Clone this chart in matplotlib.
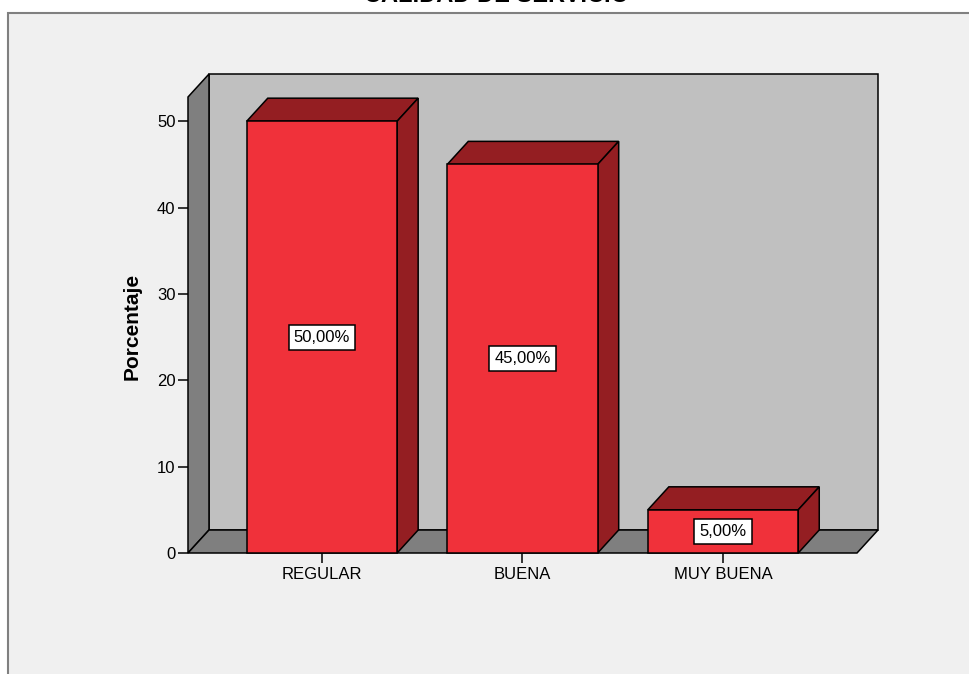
import matplotlib.pyplot as plt
from matplotlib.patches import Polygon, Rectangle

plt.rcParams['font.family'] = ['Liberation Sans', 'DejaVu Sans']

# Calidad de servicio - porcentajes
categorias = ['REGULAR', 'BUENA', 'MUY BUENA']
porcentajes = [50.0, 45.0, 5.0]
etiquetas = ['50,00%', '45,00%', '5,00%']
yticks = [0, 10, 20, 30, 40, 50]

rojo = '#f0313a'
rojo_osc = '#941e22'
gris_fondo = '#c0c0c0'
gris_pared = '#7f7f7f'

W, H = 970, 674
fig = plt.figure(figsize=(W / 100, H / 100), dpi=100)
fig.patch.set_facecolor('white')

# marco del grafico
fig.patches.append(Rectangle((8 / W, -0.05), 1.0, 1 - 13 / H + 0.05, transform=fig.transFigure,
                             facecolor='#f0f0f0', edgecolor='#808080', linewidth=1.5, zorder=-5))

fig.text(497 / W, 1 - 2 / H, 'CALIDAD DE SERVICIO', ha='center', va='baseline',
         fontsize=17, fontweight='bold')

ax = fig.add_axes([188 / W, 121 / H, 669 / W, 456 / H])
ax.set_zorder(1)
ax.set_facecolor('none')
xmin, xmax = -0.668, 2.668
ymin, ymax = 0, 52.8
ax.set_xlim(xmin, xmax)
ax.set_ylim(ymin, ymax)

# profundidad del efecto 3D en unidades de datos
ddx = 21 * (xmax - xmin) / 669
ddy = 23 * (ymax - ymin) / 456

kw = dict(edgecolor='black', linewidth=1.1, clip_on=False, joinstyle='miter')
# pared del fondo, pared izquierda y piso
ax.add_patch(Polygon([(xmin + ddx, ddy), (xmax + ddx, ddy), (xmax + ddx, ymax + ddy),
                      (xmin + ddx, ymax + ddy)], facecolor=gris_fondo, zorder=1, **kw))
ax.add_patch(Polygon([(xmin, 0), (xmin, ymax), (xmin + ddx, ymax + ddy), (xmin + ddx, ddy)],
                     facecolor=gris_pared, zorder=2, **kw))
ax.add_patch(Polygon([(xmin, 0), (xmax, 0), (xmax + ddx, ddy), (xmin + ddx, ddy)],
                     facecolor=gris_pared, zorder=2, **kw))

ancho = 0.75
pos = list(range(len(categorias)))
ax.bar(pos, porcentajes, width=ancho, color=rojo, edgecolor='black', linewidth=1.1,
       zorder=4, clip_on=False)
for x, v, et in zip(pos, porcentajes, etiquetas):
    x0, x1 = x - ancho / 2, x + ancho / 2
    ax.add_patch(Polygon([(x0, v), (x1, v), (x1 + ddx, v + ddy), (x0 + ddx, v + ddy)],
                         facecolor=rojo_osc, zorder=3, **kw))
    ax.add_patch(Polygon([(x1, 0), (x1, v), (x1 + ddx, v + ddy), (x1 + ddx, ddy)],
                         facecolor=rojo_osc, zorder=3, **kw))
    ax.text(x, v / 2, et, ha='center', va='center', fontsize=12, zorder=6,
            bbox=dict(boxstyle='square,pad=0.3', facecolor='white', edgecolor='black',
                      linewidth=1.1))

for s in ax.spines.values():
    s.set_visible(False)
ax.set_yticks(yticks)
ax.set_xticks(pos)
ax.set_xticklabels(categorias)
ax.tick_params(axis='both', direction='out', length=7, width=1.1, labelsize=12, pad=2)
ax.tick_params(axis='x', pad=3)

fig.text(132 / W, 1 - 326 / H, 'Porcentaje', rotation=90, ha='center', va='center',
         fontsize=15, fontweight='bold')

fig.savefig('out.png', dpi=100)
